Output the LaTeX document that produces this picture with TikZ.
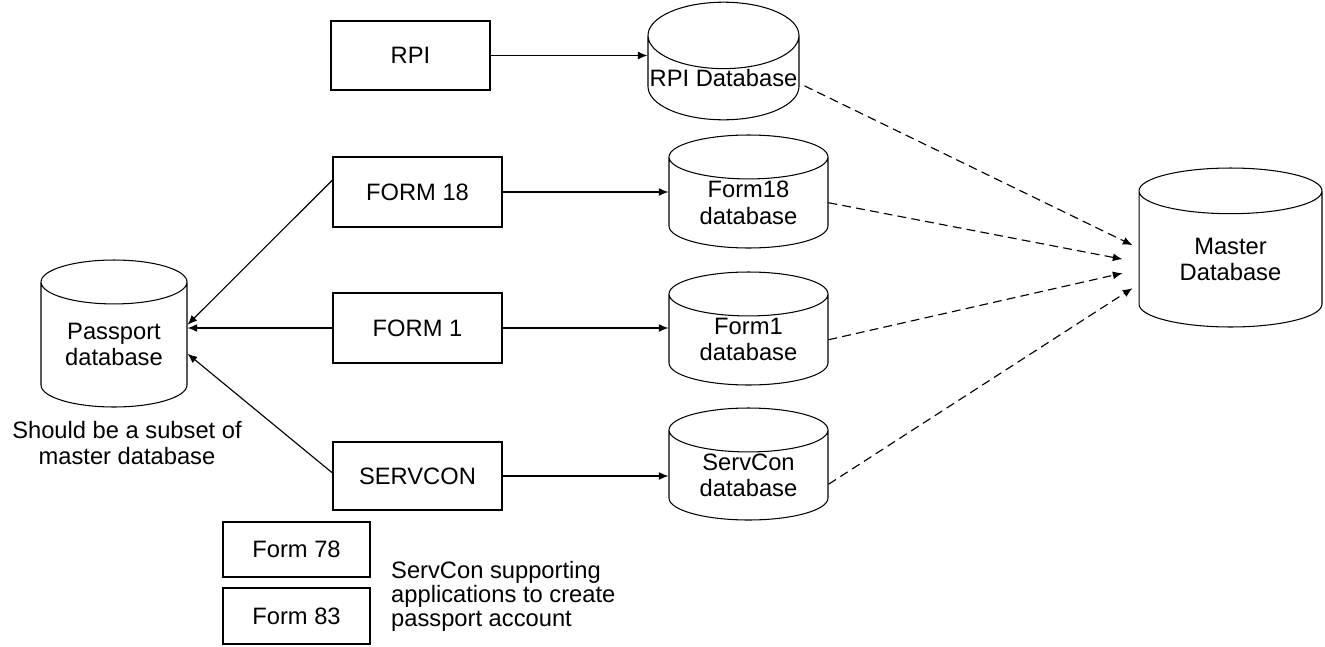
\documentclass[tikz,border=0pt]{standalone}
\usepackage{fontspec}
\setmainfont{Liberation Sans}
\usetikzlibrary{arrows.meta, calc, shapes.geometric}

\begin{document}
\begin{tikzpicture}[x=0.02cm, y=-0.02cm,
    every node/.style={font=\fontsize{13.5}{15}\selectfont}]
		\tikzset{box/.style = {shape=rectangle, draw, line width=0.6pt, inner sep=0pt}}
		\tikzset{db/.style = {shape=cylinder, shape border rotate=90, aspect=0.45, draw, line width=0.6pt, inner sep=0pt, align=center, anchor=shape center}}
		\tikzset{edge/.style = {line width=0.65pt, -{Latex[length=5.5pt, width=4.5pt]}}}
		\tikzset{feed/.style = {edge, dash pattern=on 5pt off 3pt}}

		\useasboundingbox (0,0) rectangle (1325,646);

		% applications
		\node[box, minimum width=3.18cm, minimum height=1.38cm] (RPI) at (410.5,55.5) {RPI};
		\node[box, minimum width=3.38cm, minimum height=1.4cm] (F_18) at (417.5,192) {FORM 18};
		\node[box, minimum width=3.38cm, minimum height=1.4cm] (F_1) at (417.5,328) {FORM 1};
		\node[box, minimum width=3.38cm, minimum height=1.36cm] (SC) at (417.5,476) {SERVCON};
		\node[box, minimum width=2.94cm, minimum height=1.1cm] (F_78) at (296.5,549.5) {Form 78};
		\node[box, minimum width=2.94cm, minimum height=1.12cm] (F_83) at (296.5,616) {Form 83};

		% databases
		\node[db, minimum width=3.02cm, minimum height=2.04cm] (RPI_db) at (723.5,61) {RPI Database};
		\node[db, minimum width=3.18cm, minimum height=2.26cm] (F_18_db) at (748.5,191.5) {Form18\\database};
		\node[db, minimum width=3.18cm, minimum height=2.26cm] (F_1_db) at (748.5,328.5) {Form1\\database};
		\node[db, minimum width=3.18cm, minimum height=2.24cm] (SC_db) at (748.5,464) {ServCon\\database};
		\node[db, minimum width=3.66cm, minimum height=3.18cm] (M_db) at (1230.5,247.5) {Master\\Database};
		\node[db, minimum width=2.92cm, minimum height=2.94cm] (P_db) at (114,333.5) {Passport\\database};

		% notes
		\node[align=center] (x) at (127,443) {Should be a subset of\\master database};
		\node[align=left, anchor=west, font=\fontsize{13.5}{13.6}\selectfont] (y) at (385,596) {ServCon supporting\\applications to create\\passport account};

		\draw[edge] (RPI) to (RPI -| RPI_db.west);
		\draw[edge] (F_18) to (F_18 -| F_18_db.west);
		\draw[edge] (F_1) to (F_1 -| F_1_db.west);
		\draw[edge] (SC) to (SC -| SC_db.west);

		\draw[edge] ($(F_18.west)+(0,-12)$) to ($(P_db.east)+(0,-20)$);
		\draw[edge] (F_1.west) to (F_1 -| P_db.east);
		\draw[edge] ($(SC.west)+(0,-3)$) to ($(P_db.east)+(0,9)$);

		\draw[feed] ($(RPI_db.east)+(5,8)$) to ($(M_db.west)+(-6,-14)$);
		\draw[feed] (F_18_db.east) to ($(M_db.west)+(-16,0)$);
		\draw[feed] (F_1_db.east) to ($(M_db.west)+(-16,14)$);
		\draw[feed] ($(SC_db.east)+(0,9)$) to ($(M_db.west)+(-6,29)$);
	\end{tikzpicture}
\end{document}
